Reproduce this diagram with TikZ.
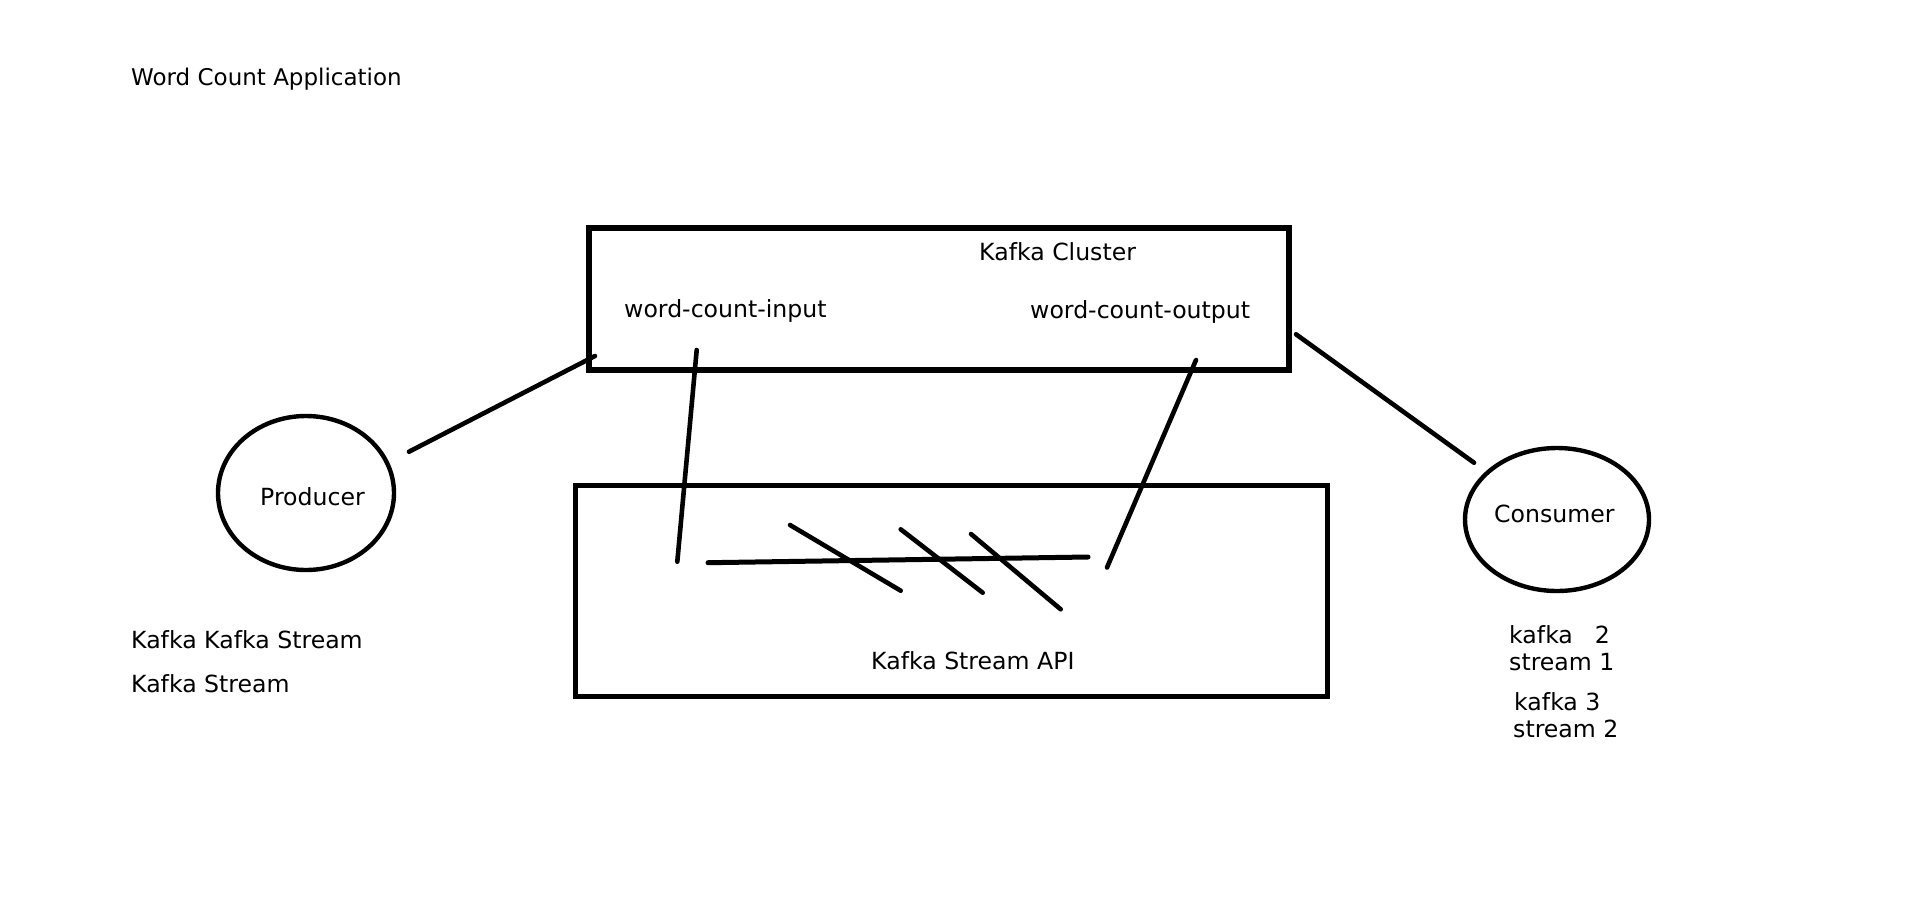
\documentclass[tikz,border=0pt]{standalone}
\usepackage{fontspec}
\setmainfont{DejaVu Sans}
\usetikzlibrary{shapes.geometric}
\begin{document}
\begin{tikzpicture}[x=1pt,y=-1pt,
  txt/.style={anchor=base west, inner sep=0pt, font=\fontsize{23.6}{28}\selectfont},
  boxshape/.style={draw, line width=5.5pt, rectangle, inner sep=0pt},
  ellshape/.style={draw, line width=4.4pt, ellipse, inner sep=0pt},
  conn/.style={line width=4.6pt, line cap=round}]
\useasboundingbox[fill=white] (0,0) rectangle (1914,903);

% title
\node[txt, font=\fontsize{23}{28}\selectfont] (title) at (131,85) {Word Count Application};

% Kafka cluster box
\node[boxshape, minimum width=700pt, minimum height=142pt] (cluster) at (939,299) {};
\node[txt] (clustertxt) at (979,260.7) {Kafka Cluster};
\node[txt] (input) at (624,317.5) {word-count-input};
\node[txt] (output) at (1030,318.5) {word-count-output};

% Kafka Stream API box
\node[boxshape, minimum width=752pt, minimum height=211pt] (api) at (951.5,590.8) {};
\node[txt] (apitxt) at (871,669.3) {Kafka Stream API};

% producer and consumer
\node[ellshape, minimum width=176pt, minimum height=154pt] (prod) at (306,493) {};
\node[txt] (prodtxt) at (260,505.7) {Producer};
\node[ellshape, minimum width=184pt, minimum height=143pt] (cons) at (1557,519.5) {};
\node[txt] (constxt) at (1494,522.7) {Consumer};

% side texts
\node[txt] (kk1) at (131,648.3) {Kafka Kafka Stream};
\node[txt] (kk2) at (131,692) {Kafka Stream};
\node[txt] (c1) at (1509,643.3) {kafka\hspace{22pt}2};
\node[txt] (c2) at (1509,670.7) {stream 1};
\node[txt] (c3) at (1514,710) {kafka 3};
\node[txt] (c4) at (1513,737.3) {stream 2};

% connector end points
\coordinate (pa) at (409,451.7);
\coordinate (pb) at (595,356);
\coordinate (ia) at (696.7,350);
\coordinate (ib) at (677.3,561.7);
\coordinate (oa) at (1196,360);
\coordinate (ob) at (1107,567.5);
\coordinate (ca) at (1296,334.3);
\coordinate (cb) at (1474,462.7);
\coordinate (ha) at (708,562.7);
\coordinate (hb) at (1088,557);
\coordinate (s1a) at (790,525);
\coordinate (s1b) at (900.7,590.7);
\coordinate (s2a) at (900.7,529.3);
\coordinate (s2b) at (982.7,592.7);
\coordinate (s3a) at (971,534);
\coordinate (s3b) at (1060.7,609.3);

\draw[conn] (pa) -- (pb);
\draw[conn] (ia) -- (ib);
\draw[conn] (oa) -- (ob);
\draw[conn] (ca) -- (cb);
\draw[conn, line width=5pt] (ha) -- (hb);
\draw[conn] (s1a) -- (s1b);
\draw[conn] (s2a) -- (s2b);
\draw[conn] (s3a) -- (s3b);
\end{tikzpicture}
\end{document}
